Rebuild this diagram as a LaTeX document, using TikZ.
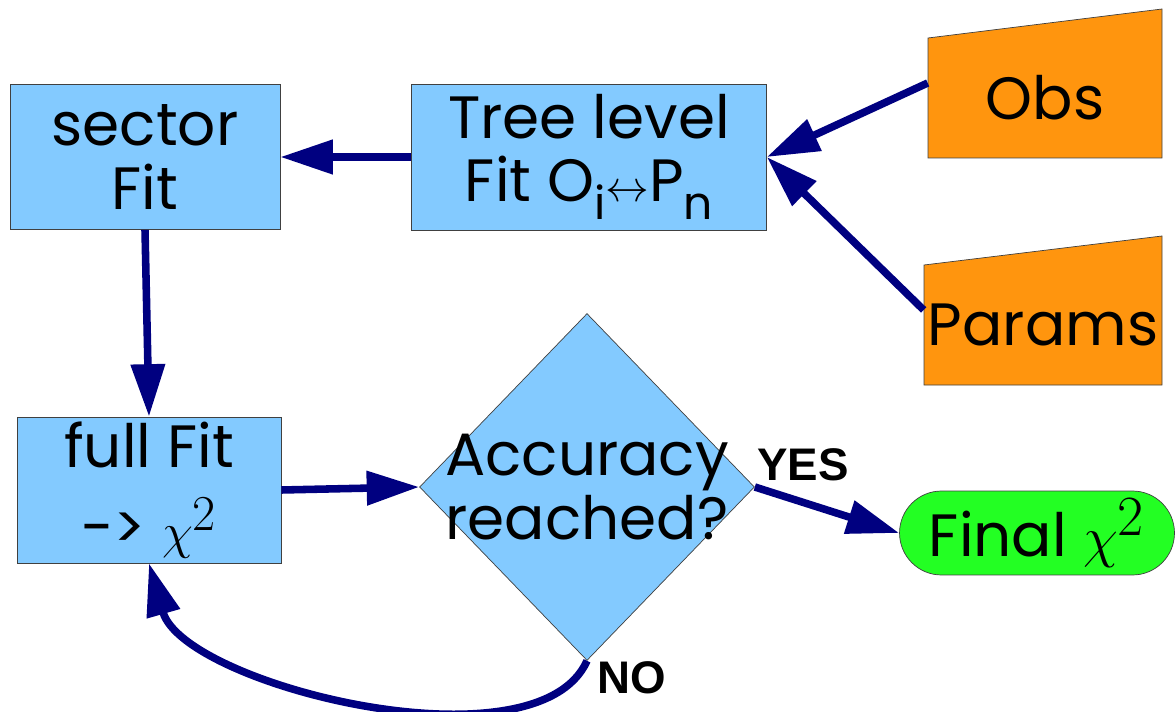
\documentclass[tikz,border=0pt]{standalone}
\usepackage{fontspec}
\usepackage{amsmath}
\usepackage{graphicx}
\usetikzlibrary{calc,arrows.meta,shapes.geometric}
\newfontfamily\answerfont{Liberation Sans}
\newfontfamily\poppins{Poppins}
\newcommand{\handfont}{\poppins\fontsize{34}{36}\selectfont}
\newcommand{\lowsub}[1]{\raisebox{-10pt}{\fontsize{26}{26}\selectfont #1}}
\newcommand{\chisq}{\scalebox{1.15}{$\chi^2$}}
\definecolor{boxblue}{HTML}{83CAFF}
\definecolor{obsorange}{HTML}{FF950E}
\definecolor{okgreen}{HTML}{23FF23}
\definecolor{flownavy}{HTML}{000080}

\begin{document}
\begin{tikzpicture}[x=0.02cm, y=-0.02cm,
    box/.style={draw=black!75, fill=boxblue, font=\handfont, align=center, inner sep=0pt},
    decision/.style={diamond, draw=black!75, fill=boxblue, inner sep=0pt, minimum width=6.7cm, minimum height=6.94cm},
    inbox/.style={font=\handfont, inner sep=0pt},
    endbox/.style={draw=black!75, fill=okgreen, font=\handfont, inner sep=0pt},
    answer/.style={font=\answerfont\bfseries\fontsize{26}{28}\selectfont},
    flow/.style={flownavy, line width=4.3pt, -{Triangle[length=1.05cm, width=0.66cm]}}]
\useasboundingbox (0,0) rectangle (1175,712);

%%% blocs de calcul
\node[box, minimum width=5.4cm, minimum height=2.9cm] (sector) at (145,157) {sector\\Fit};
\node[box, minimum width=7.1cm, minimum height=2.92cm] (tree) at (589,157) {Tree level\\Fit O\lowsub{i}$\leftrightarrow$P\lowsub{n}};
\node[box, minimum width=5.28cm, minimum height=2.92cm] (full) at (149,490) {full Fit\\[10pt]-{}> \chisq};

% test
\node[decision, label={[font=\handfont, align=center]center:{Accuracy\\reached?}}] (acc) at (587,487) {};

% fin
\node[endbox, minimum width=5.5cm, minimum height=1.68cm, rounded corners=0.84cm] (final) at (1037,533) {Final \scalebox{1.3}{$\chi^2$}};

%%% entrees
\filldraw[draw=black!75, fill=obsorange] (928,38) -- (1162,9) -- (1162,158) -- (928,158) -- cycle;
\node[inbox, minimum width=4.68cm, minimum height=2.4cm] (obs) at (1045,98) {Obs};

\filldraw[draw=black!75, fill=obsorange] (924,265) -- (1162,236) -- (1162,385) -- (924,385) -- cycle;
\node[inbox, minimum width=4.76cm, minimum height=2.4cm] (params) at (1043,325) {Params};

%%% fleches
\draw[flow] ($(obs.west)+(0,-15)$) -- (tree.east);
\draw[flow] ($(params.west)+(0,-15)$) -- (tree.east);
\draw[flow] (tree.west) -- (sector.east);
\draw[flow] (sector.south) -- (full.north);
\draw[flow] (full.east) -- (acc.west);
\draw[flow] (acc.east) -- (final.west);
\draw[flow] (acc.south) .. controls +(-50,112) and +(35,122) .. (full.south);

%%% reponses
\node[answer] (yes) at (803,465) {YES};
\node[answer] (no) at (632,678) {NO};
\end{tikzpicture}
\end{document}
